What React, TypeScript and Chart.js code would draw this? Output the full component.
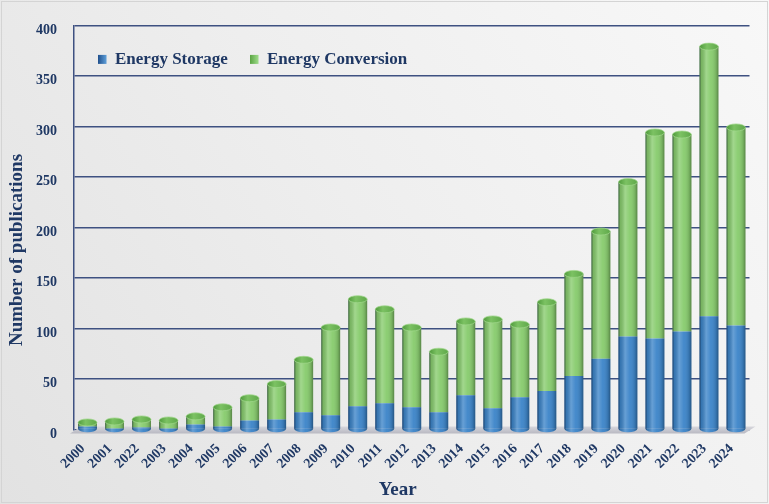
import React, { useEffect, useRef } from 'react';
import { Chart, registerables } from 'chart.js';

Chart.register(...registerables);

// ---------- data ----------
const years = ['2000', '2001', '2022', '2003', '2004', '2005', '2006', '2007', '2008', '2009', '2010', '2011', '2012', '2013', '2014', '2015', '2016', '2017', '2018', '2019', '2020', '2021', '2022', '2023', '2024'];
const energyStorage = [3, 1, 2, 1, 5, 3, 9, 10, 17, 14, 23, 26, 22, 17, 34, 21, 32, 38, 53, 70, 92, 90, 97, 112, 103];
const energyConversion = [4, 7, 8, 8, 8, 19, 22, 35, 52, 87, 106, 93, 79, 60, 73, 88, 72, 88, 101, 126, 153, 204, 195, 267, 196];
const seriesNames = ['Energy Storage', 'Energy Conversion'];
const yMin = 0;
const yMax = 400;
const yStep = 50;
const xTitle = 'Year';
const yTitle = 'Number of publications';

const NAVY = '#1f3864';
const GRID = '#3e5181';
const SERIF = "'Liberation Serif', 'Times New Roman', serif";
const BLUE = '#3d85c9';
const GREEN = '#88cc6e';

const decor = {
  id: 'decor',
  beforeDraw(chart: any) {
    const { ctx, width, height } = chart;
    ctx.save();
    const g = ctx.createLinearGradient(0, height, width, 0);
    g.addColorStop(0, '#e2e2e2');
    g.addColorStop(0.5, '#eeeeee');
    g.addColorStop(1, '#f8f8f8');
    ctx.fillStyle = g;
    ctx.fillRect(0, 0, width, height);
    ctx.strokeStyle = '#d4d4d4';
    ctx.lineWidth = 1;
    ctx.strokeRect(1.5, 1.5, width - 3, height - 3);
    ctx.restore();
  },
  beforeDatasetsDraw(chart: any) {
    const { ctx, chartArea } = chart;
    const { left, right, bottom } = chartArea;
    ctx.save();
    // floor
    ctx.beginPath();
    ctx.moveTo(left - 4, bottom + 4);
    ctx.lineTo(right - 5, bottom + 4);
    ctx.lineTo(right + 6, bottom - 3);
    ctx.lineTo(left + 7, bottom - 3);
    ctx.closePath();
    const fg = ctx.createLinearGradient(0, bottom - 3, 0, bottom + 4);
    fg.addColorStop(0, '#d6d6dc');
    fg.addColorStop(1, '#b9b9c2');
    ctx.fillStyle = fg;
    ctx.fill();
    ctx.restore();
  },
  afterDatasetsDraw(chart: any) {
    const { ctx } = chart;
    ctx.save();
    chart.data.datasets.forEach((ds: any, di: number) => {
      const meta = chart.getDatasetMeta(di);
      meta.data.forEach((el: any) => {
        const { x, y, base, width } = el.getProps(['x', 'y', 'base', 'width'], true);
        const l = x - width / 2;
        const top = Math.min(y, base);
        const h = Math.abs(base - y);
        if (di === 0) {
          ctx.beginPath();
          ctx.ellipse(x, base, width / 2, 3.5, 0, 0, Math.PI);
          ctx.fillStyle = BLUE;
          ctx.fill();
        }
        const g = ctx.createLinearGradient(l, 0, l + width, 0);
        g.addColorStop(0, 'rgba(0,10,40,0.55)');
        g.addColorStop(0.1, 'rgba(0,0,0,0.12)');
        g.addColorStop(0.35, 'rgba(255,255,255,0.22)');
        g.addColorStop(0.6, 'rgba(255,255,255,0.04)');
        g.addColorStop(0.88, 'rgba(0,0,0,0.14)');
        g.addColorStop(1, 'rgba(0,0,0,0.35)');
        ctx.fillStyle = g;
        ctx.fillRect(l, top, width, h);
        if (di === 0) {
          ctx.beginPath();
          ctx.ellipse(x, base, width / 2, 3.5, 0, 0, Math.PI);
          ctx.fillStyle = g;
          ctx.fill();
        }
        if (di === chart.data.datasets.length - 1) {
          ctx.beginPath();
          ctx.ellipse(x, y, width / 2, 3.5, 0, 0, Math.PI * 2);
          const cg = ctx.createLinearGradient(l, 0, l + width, 0);
          cg.addColorStop(0, '#4f9a3c');
          cg.addColorStop(0.4, '#7cc263');
          cg.addColorStop(1, '#5fa84a');
          ctx.fillStyle = cg;
          ctx.fill();
          ctx.strokeStyle = 'rgba(160,215,140,0.9)';
          ctx.lineWidth = 0.8;
          ctx.stroke();
        }
      });
    });
    ctx.restore();
  },
  afterDraw(chart: any) {
    const { ctx, chartArea } = chart;
    ctx.save();
    const colors = [
      ['#1f4f8c', '#5b9bd5'],
      ['#5aa443', '#9bd987'],
    ];
    const lx = [chartArea.left + 24, chartArea.left + 176];
    const ly = chartArea.top + 34;
    ctx.font = `bold 17px ${SERIF}`;
    ctx.textBaseline = 'middle';
    ctx.textAlign = 'left';
    chart.data.datasets.forEach((ds: any, i: number) => {
      const bx = lx[i];
      const g = ctx.createLinearGradient(bx, 0, bx + 8, 0);
      g.addColorStop(0, colors[i][0]);
      g.addColorStop(1, colors[i][1]);
      ctx.fillStyle = g;
      ctx.fillRect(bx, ly - 4.5, 8.5, 9);
      ctx.fillStyle = NAVY;
      ctx.fillText(ds.label, bx + 17, ly);
    });
    ctx.fillStyle = NAVY;
    ctx.font = `bold 19px ${SERIF}`;
    ctx.textAlign = 'center';
    ctx.textBaseline = 'middle';
    ctx.fillText(xTitle, (chartArea.left + chartArea.right) / 2 - 14, chart.height - 14);
    ctx.translate(17, chart.height / 2 - 2);
    ctx.rotate(-Math.PI / 2);
    ctx.fillText(yTitle, 0, 0);
    ctx.restore();
  },
};

export default function App() {
  const ref = useRef<HTMLCanvasElement | null>(null);
  useEffect(() => {
    document.body.style.margin = '0';
    const canvas = ref.current;
    if (!canvas) return;
    const chart = new Chart(canvas, {
      type: 'bar',
      data: {
        labels: years,
        datasets: [
          { label: seriesNames[0], data: energyStorage, backgroundColor: BLUE, borderWidth: 0, categoryPercentage: 0.7, barPercentage: 1 },
          { label: seriesNames[1], data: energyConversion, backgroundColor: GREEN, borderWidth: 0, categoryPercentage: 0.7, barPercentage: 1 },
        ],
      },
      options: {
        animation: false,
        responsive: false,
        maintainAspectRatio: false,
        layout: { padding: { top: 18.3, right: 19.5, bottom: 0, left: 0 } },
        plugins: { legend: { display: false }, tooltip: { enabled: false } },
        scales: {
          x: {
            stacked: true,
            grid: { display: false, drawTicks: false },
            border: { display: false },
            ticks: {
              autoSkip: false,
              maxRotation: 45,
              minRotation: 45,
              labelOffset: -4.5,
              padding: 11,
              color: NAVY,
              font: { family: SERIF, size: 14, weight: 'bold' },
            },
            afterFit: (s: any) => { s.height = 74.5; },
          },
          y: {
            stacked: true,
            min: yMin,
            max: yMax,
            ticks: {
              stepSize: yStep,
              padding: 17,
              labelOffset: 4.5,
              color: NAVY,
              font: { family: SERIF, size: 14, weight: 'bold' },
            },
            grid: { color: GRID, lineWidth: 1.5, drawTicks: false },
            border: { display: true, color: GRID, width: 1.5 },
            afterFit: (s: any) => { s.width = 74; },
          },
        },
      } as any,
      plugins: [decor],
    });
    return () => chart.destroy();
  }, []);
  return (
    <div style={{ position: 'absolute', left: 0, top: 0, width: 769, height: 504 }}>
      <canvas ref={ref} width={769} height={504} style={{ display: 'block', width: 769, height: 504 }} />
    </div>
  );
}
